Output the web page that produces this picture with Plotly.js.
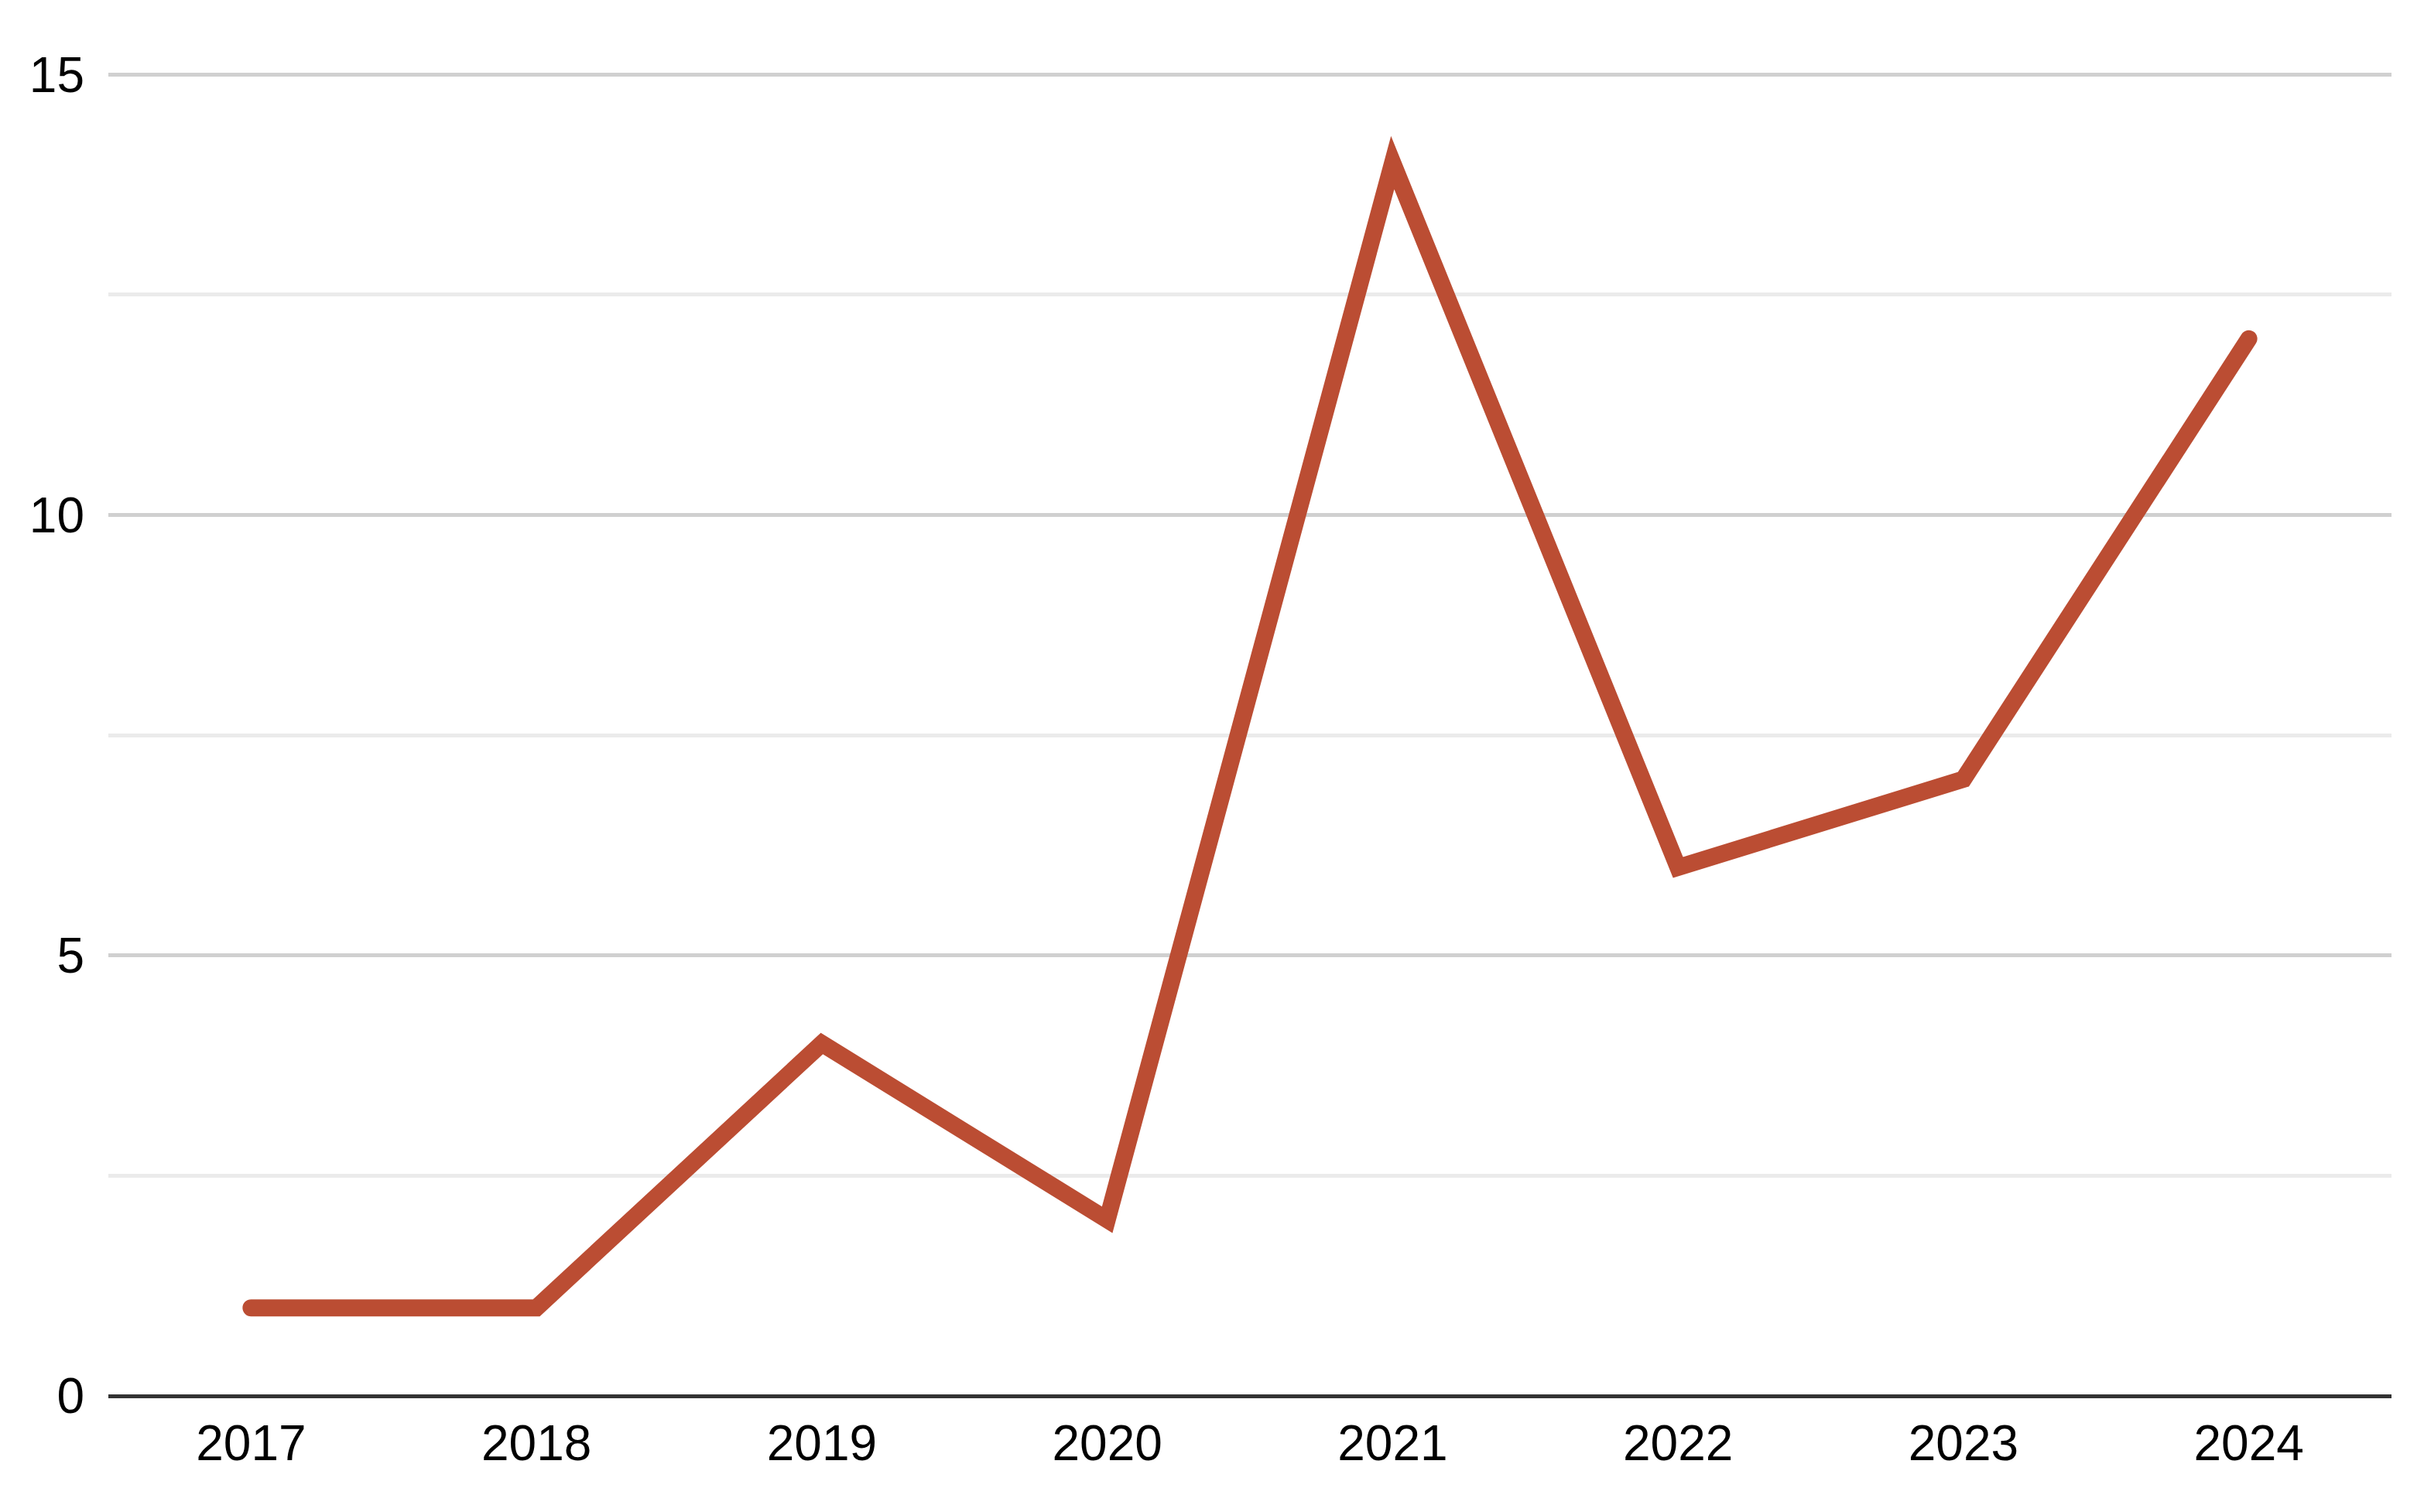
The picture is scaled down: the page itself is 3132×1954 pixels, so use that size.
<!DOCTYPE html>
<html>
<head>
<meta charset="utf-8">
<script src="https://cdn.plot.ly/plotly-3.0.1.min.js"></script>
<style>
html, body { margin: 0; padding: 0; background: #fff; }
#chart { width: 3132px; height: 1954px; }
.js-line { stroke-linecap: round !important; stroke-linejoin: miter !important; stroke-miterlimit: 10 !important; }
</style>
</head>
<body>
<div id="chart"></div>
<script>
const years = ['2017', '2018', '2019', '2020', '2021', '2022', '2023', '2024'];
const values = [1, 1, 4, 2, 14, 6, 7, 12];
const yTickVals = [0, 5, 10, 15];
const yTickText = ['0', '5', '10', '15'];

const trace = {
  x: years,
  y: values,
  type: 'scatter',
  mode: 'lines',
  line: { color: '#bb4d33', width: 22 },
  hoverinfo: 'skip'
};

const layout = {
  width: 3132,
  height: 1954,
  margin: { l: 140, r: 42, t: 94, b: 150 },
  paper_bgcolor: '#ffffff',
  plot_bgcolor: '#ffffff',
  showlegend: false,
  font: { family: 'Liberation Sans, Arial, sans-serif', size: 64, color: '#000' },
  xaxis: {
    type: 'category',
    range: [-0.5, 7.5],
    showgrid: false,
    zeroline: false,
    showline: false,
    ticks: '',
    ticklabelstandoff: 18,
    tickfont: { size: 64, color: '#000' }
  },
  yaxis: {
    range: [0, 15.02],
    tickvals: yTickVals,
    ticktext: yTickText,
    showgrid: true,
    gridcolor: '#d0d0d0',
    gridwidth: 5,
    zeroline: true,
    zerolinecolor: '#333333',
    zerolinewidth: 5,
    showline: false,
    ticks: '',
    ticklabelstandoff: 30,
    tickfont: { size: 64, color: '#000' },
    minor: { dtick: 2.5, tick0: 0, showgrid: true, gridcolor: '#ebebeb', gridwidth: 5, ticks: '' }
  }
};

Plotly.newPlot('chart', [trace], layout, { staticPlot: true, displayModeBar: false });
</script>
</body>
</html>
